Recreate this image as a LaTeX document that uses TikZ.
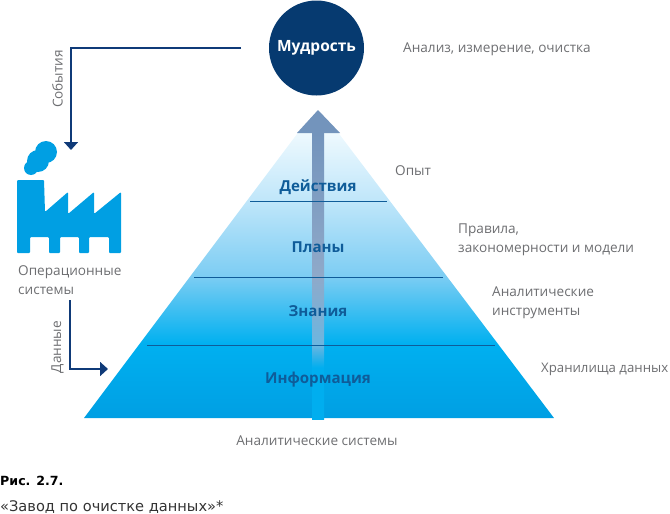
\documentclass[tikz,border=0pt]{standalone}
\usepackage{fontspec}
\setmainfont{Open Sans}
\newfontfamily\capfont{DejaVu Sans}
\usetikzlibrary{arrows.meta}
\definecolor{navy}{HTML}{063A70}
\definecolor{linkblue}{HTML}{0F3A78}
\definecolor{factoryblue}{HTML}{009FE3}
\definecolor{greytext}{HTML}{6D6E71}
\definecolor{leveltext}{HTML}{0F5C99}
\definecolor{pyrA}{HTML}{00B0F0}
\definecolor{pyrB}{HTML}{7DCDF3}
\definecolor{pyrC}{HTML}{BFE6FA}
\definecolor{pyrD}{HTML}{EEF9FE}
\definecolor{shaftA}{HTML}{00AEEF}
\definecolor{shaftB}{HTML}{6CB6E0}
\definecolor{shaftC}{HTML}{8FA9C9}
\definecolor{shaftD}{HTML}{7394BC}
\tikzset{
    note/.style={text=greytext,font=\fontsize{13.6}{19}\selectfont,anchor=west,align=left,inner sep=0pt},
    level/.style={text=leveltext,font=\fontsize{15.1}{17}\selectfont\bfseries,inner sep=0pt},
    link/.style={draw=linkblue,line width=1.7pt,-{Triangle[length=8pt,width=14pt]}},
    rung/.style={draw=leveltext,line width=0.9pt},
}
\pgfdeclareverticalshading{pyramidfill}{100bp}{color(0bp)=(factoryblue); color(25bp)=(factoryblue); color(38bp)=(pyrA); color(50bp)=(pyrB); color(63bp)=(pyrC); color(75bp)=(pyrD); color(100bp)=(pyrD)}
\pgfdeclareverticalshading{shaftfill}{100bp}{color(0bp)=(shaftA); color(34bp)=(shaftA); color(38bp)=(shaftB); color(50bp)=(shaftC); color(75bp)=(shaftD); color(100bp)=(shaftD)}
\begin{document}
\begin{tikzpicture}[x=1pt,y=-1pt]
    \useasboundingbox (0,0) rectangle (670,514);

    \coordinate (apex) at (318,106);
    \coordinate (baseL) at (84,418);
    \coordinate (baseR) at (554,418);

    \begin{scope}
        \clip (apex) -- (baseL) -- (baseR) -- cycle;
        \shade[shading=pyramidfill] (84,133) rectangle (554,418);
    \end{scope}

    \shade[shading=shaftfill] (312,133) rectangle (324,419);
    \fill[shaftD] (297,133) -- (318,110) -- (340,133) -- cycle;

    \coordinate (r1L) at (250,201);
    \coordinate (r1R) at (387,201);
    \coordinate (r2L) at (194,277);
    \coordinate (r2R) at (443,277);
    \coordinate (r3L) at (147,345);
    \coordinate (r3R) at (495,345);
    \draw[rung] (r1L) -- (r1R);
    \draw[rung] (r2L) -- (r2R);
    \draw[rung] (r3L) -- (r3R);

    \node[level] (actions) at (318,187) {Действия};
    \node[level] (plans) at (318,247) {Планы};
    \node[level] (knowledge) at (318,311) {Знания};
    \node[level] (information) at (318,380) {Информация};

    \node[circle,fill=navy,minimum size=95pt,inner sep=0pt,text=white,font=\fontsize{15.5}{17}\selectfont\bfseries] (wisdom) at (316.5,48) {Мудрость};

    \node[note] (cleaning) at (403,49.5) {Анализ, измерение, очистка};
    \node[note] (experience) at (395,171) {Опыт};
    \node[note] (rules) at (458,239.5) {Правила,\\закономерности и модели};
    \node[note] (tools) at (492,303) {Аналитические\\инструменты};
    \node[note,font=\fontsize{13.2}{19}\selectfont] (storage) at (541,369.5) {Хранилища данных};
    \node[note,anchor=center] (systems) at (317,441) {Аналитические системы};
    \node[note] (operational) at (18,280.5) {Операционные\\системы};

    \fill[factoryblue] (46,152) circle (11) (38,161) circle (11) (31,168) circle (7);
    \fill[factoryblue,rounded corners=1pt] (17,253) -- (17,180) -- (44,180) -- (45,212) -- (68,192) -- (68,214) -- (94,192) -- (94,214) -- (121,192) -- (121,253) -- (109,253) -- (109,237) -- (89,237) -- (89,253) -- (79,253) -- (79,237) -- (60,237) -- (60,253) -- (49,253) -- (49,237) -- (30,237) -- (30,253) -- cycle;

    \coordinate (eventsStart) at (241,48);
    \coordinate (eventsBend) at (71,48);
    \coordinate (eventsEnd) at (71,150);
    \draw[link] (eventsStart) -- (eventsBend) -- (eventsEnd);

    \coordinate (dataStart) at (70,300);
    \coordinate (dataBend) at (70,369);
    \coordinate (dataEnd) at (108,369);
    \draw[link] (dataStart) -- (dataBend) -- (dataEnd);

    \node[note,anchor=center,rotate=90] (events) at (57.5,79) {События};
    \node[note,anchor=center,rotate=90] (data) at (57.5,347) {Данные};

    \node[anchor=west,inner sep=0pt,font=\capfont\fontsize{12.6}{14}\selectfont\bfseries] (capnum) at (0,481) {Рис. 2.7.};
    \node[anchor=west,inner sep=0pt,font=\capfont\fontsize{14.6}{16}\selectfont,text=black!80] (captitle) at (0,507) {«Завод по очистке данных»*};
\end{tikzpicture}
\end{document}
